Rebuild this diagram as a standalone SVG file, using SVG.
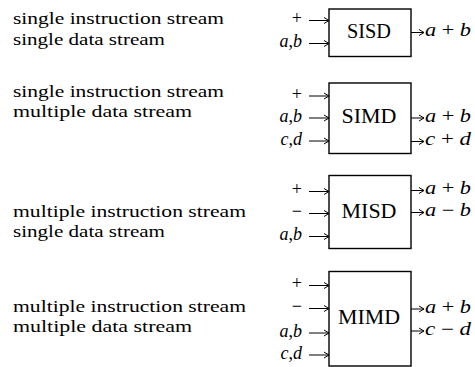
<svg xmlns="http://www.w3.org/2000/svg" width="475" height="367" viewBox="0 0 475 367">
<defs>
<marker id="ah" viewBox="-6 -4 7 8" refX="0" refY="0" markerWidth="7" markerHeight="8" markerUnits="userSpaceOnUse" orient="auto">
<path d="M-5,-3 L0,0 L-5,3" fill="none" stroke="#000" stroke-width="1"/>
</marker>
<style>
.box{fill:#fff;stroke:#000;stroke-width:1.4}
.lbl{font-family:"Liberation Serif","Times New Roman",serif;font-size:20px;fill:#000;text-anchor:middle}
.desc{font-family:"Liberation Serif","Times New Roman",serif;font-size:17px;fill:#000}
.io{font-family:"Liberation Serif","Times New Roman",serif;font-size:18px;fill:#000}
.in{text-anchor:end}
.it{font-style:italic}
.arr{stroke:#000;stroke-width:1;fill:none;marker-end:url(#ah)}
</style>
</defs>
<rect width="475" height="367" fill="#fff"/>

<g id="sisd">
<rect class="box" x="329" y="9" width="82" height="47.5"/>
<text class="lbl" x="369" y="38" textLength="44" lengthAdjust="spacingAndGlyphs">SISD</text>
<text class="desc" x="13" y="23.5" textLength="211" lengthAdjust="spacingAndGlyphs">single instruction stream</text>
<text class="desc" x="13" y="44.5" textLength="152" lengthAdjust="spacingAndGlyphs">single data stream</text>
</g>

<g id="simd">
<rect class="box" x="329" y="83" width="82" height="70.5"/>
<text class="lbl" x="369" y="123" textLength="55" lengthAdjust="spacingAndGlyphs">SIMD</text>
<text class="desc" x="13" y="97" textLength="211" lengthAdjust="spacingAndGlyphs">single instruction stream</text>
<text class="desc" x="13" y="117" textLength="179" lengthAdjust="spacingAndGlyphs">multiple data stream</text>
</g>

<g id="misd">
<rect class="box" x="329" y="175.5" width="82" height="73"/>
<text class="lbl" x="369" y="217.5" textLength="55" lengthAdjust="spacingAndGlyphs">MISD</text>
<text class="desc" x="13" y="216.5" textLength="233" lengthAdjust="spacingAndGlyphs">multiple instruction stream</text>
<text class="desc" x="13" y="236.5" textLength="152" lengthAdjust="spacingAndGlyphs">single data stream</text>
</g>

<g id="mimd">
<rect class="box" x="329" y="271.5" width="82" height="94.5"/>
<text class="lbl" x="369" y="324" textLength="62" lengthAdjust="spacingAndGlyphs">MIMD</text>
<text class="desc" x="13" y="311.5" textLength="233" lengthAdjust="spacingAndGlyphs">multiple instruction stream</text>
<text class="desc" x="13" y="331.5" textLength="179" lengthAdjust="spacingAndGlyphs">multiple data stream</text>
</g>

<g id="connectors">
<!-- SISD -->
<path class="arr" d="M309,20.5H329"/>
<path class="arr" d="M309,43.5H329"/>
<path class="arr" d="M411,32.5H424"/>
<text class="io in" x="302" y="24">+</text>
<text class="io in" x="302" y="47"><tspan class="it">a</tspan>,<tspan class="it">b</tspan></text>
<text class="io" x="425" y="36" textLength="46" lengthAdjust="spacingAndGlyphs"><tspan class="it">a</tspan> + <tspan class="it">b</tspan></text>
<!-- SIMD -->
<path class="arr" d="M309,96H329"/>
<path class="arr" d="M309,118H329"/>
<path class="arr" d="M309,141H329"/>
<path class="arr" d="M411,118H424"/>
<path class="arr" d="M411,141.5H424"/>
<text class="io in" x="302" y="99.5">+</text>
<text class="io in" x="302" y="121.5"><tspan class="it">a</tspan>,<tspan class="it">b</tspan></text>
<text class="io in" x="302" y="144.5"><tspan class="it">c</tspan>,<tspan class="it">d</tspan></text>
<text class="io" x="425" y="121.5" textLength="46" lengthAdjust="spacingAndGlyphs"><tspan class="it">a</tspan> + <tspan class="it">b</tspan></text>
<text class="io" x="425" y="145" textLength="46" lengthAdjust="spacingAndGlyphs"><tspan class="it">c</tspan> + <tspan class="it">d</tspan></text>
<!-- MISD -->
<path class="arr" d="M309,191.5H329"/>
<path class="arr" d="M309,213.5H329"/>
<path class="arr" d="M309,236.5H329"/>
<path class="arr" d="M411,190.5H424"/>
<path class="arr" d="M411,212.5H424"/>
<text class="io in" x="302" y="195">+</text>
<text class="io in" x="302" y="217">−</text>
<text class="io in" x="302" y="240"><tspan class="it">a</tspan>,<tspan class="it">b</tspan></text>
<text class="io" x="425" y="194" textLength="46" lengthAdjust="spacingAndGlyphs"><tspan class="it">a</tspan> + <tspan class="it">b</tspan></text>
<text class="io" x="425" y="216" textLength="46" lengthAdjust="spacingAndGlyphs"><tspan class="it">a</tspan> − <tspan class="it">b</tspan></text>
<!-- MIMD -->
<path class="arr" d="M309,285.5H329"/>
<path class="arr" d="M309,308.5H329"/>
<path class="arr" d="M309,333H329"/>
<path class="arr" d="M309,355H329"/>
<path class="arr" d="M411,309H424"/>
<path class="arr" d="M411,331H424"/>
<text class="io in" x="302" y="289">+</text>
<text class="io in" x="302" y="312">−</text>
<text class="io in" x="302" y="336.5"><tspan class="it">a</tspan>,<tspan class="it">b</tspan></text>
<text class="io in" x="302" y="358.5"><tspan class="it">c</tspan>,<tspan class="it">d</tspan></text>
<text class="io" x="425" y="312.5" textLength="46" lengthAdjust="spacingAndGlyphs"><tspan class="it">a</tspan> + <tspan class="it">b</tspan></text>
<text class="io" x="425" y="334.5" textLength="46" lengthAdjust="spacingAndGlyphs"><tspan class="it">c</tspan> − <tspan class="it">d</tspan></text>
</g>
</svg>
